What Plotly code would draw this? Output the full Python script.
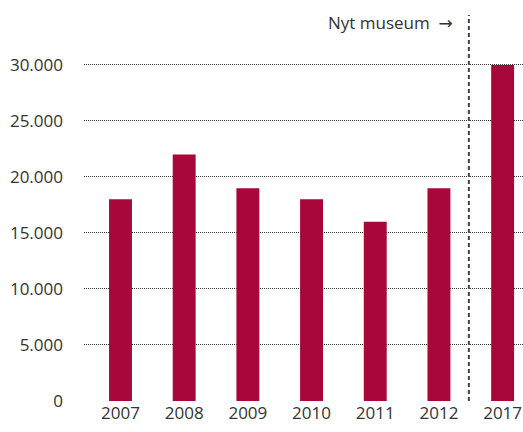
import plotly.graph_objects as go

years = ["2007", "2008", "2009", "2010", "2011", "2012", "2017"]
visitors = [18000, 22000, 19000, 18000, 16000, 19000, 30000]
y_ticks = [0, 5000, 10000, 15000, 20000, 25000, 30000]
annotation_label = "Nyt museum"
annotation_arrow = "→"

bar_color = "#a8073a"
text_color = "#333333"

fig = go.Figure()
fig.add_trace(go.Bar(x=years, y=visitors, marker=dict(color=bar_color, line=dict(width=0)), width=0.36))

fig.add_shape(type="line", xref="x", yref="paper", x0=5.47, x1=5.47, y0=0, y1=1,
              line=dict(color="#444444", width=2, dash="4px,3px"))

fig.add_annotation(x=5.47, y=1, xref="x", yref="paper",
                   text=annotation_label + "  <span style='font-family:DejaVu Sans'>" + annotation_arrow + "</span>",
                   showarrow=False,
                   xanchor="right", yanchor="middle", xshift=-14, yshift=-7,
                   font=dict(size=17, color=text_color))

fig.update_layout(
    width=523, height=432,
    margin=dict(l=84, r=0, t=15, b=31),
    plot_bgcolor="white", paper_bgcolor="white",
    font=dict(family="Open Sans, Noto Sans, sans-serif", size=17, color=text_color),
    separators=",.",
    showlegend=False,
)
fig.update_xaxes(type="category", range=[-0.573, 6.32], showgrid=False, showline=False,
                 zeroline=False, ticks="", tickfont=dict(size=17, color=text_color))
fig.update_yaxes(range=[0, 34460], tickvals=y_ticks, tickformat=",d", showgrid=True,
                 gridcolor="#333333", griddash="1px,1px", gridwidth=1, zeroline=False,
                 showline=False, ticks="", ticklabelstandoff=20,
                 tickfont=dict(size=17, color=text_color))

fig.write_html("out.html",
               config={"displayModeBar": False},
               post_script="document.body.style.margin='0';document.body.style.overflow='hidden';")
